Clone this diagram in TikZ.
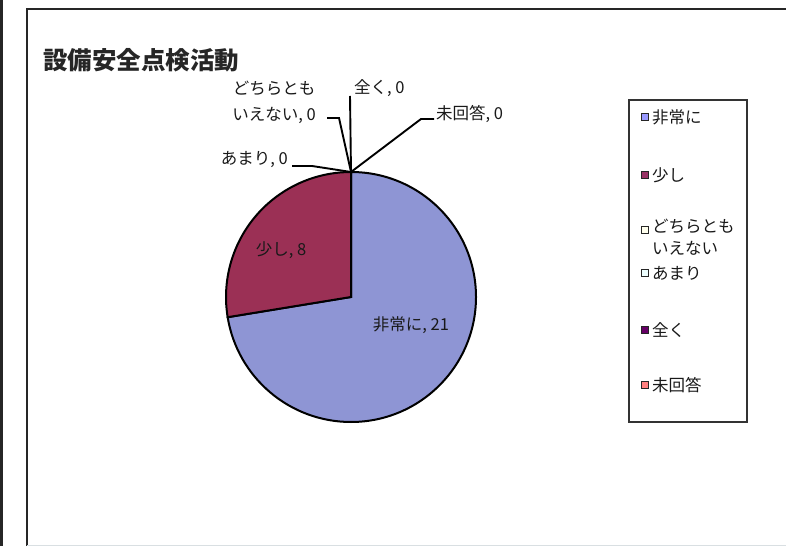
\documentclass[tikz,border=0pt]{standalone}
\usepackage{fontspec}
\setmainfont{Noto Sans CJK JP}
\definecolor{sBlue}{HTML}{8E95D4}
\definecolor{sRed}{HTML}{9B3055}
\definecolor{mBlue}{HTML}{9999FF}
\definecolor{mRed}{HTML}{993366}
\definecolor{mYel}{HTML}{FFFFEE}
\definecolor{mCyan}{HTML}{EEFFFF}
\definecolor{mPur}{HTML}{660066}
\definecolor{mPink}{HTML}{FF8080}
\tikzset{
  lbl/.style={inner sep=0pt, font=\fontsize{16.5}{26}\selectfont, text=black!90},
  leader/.style={draw=black, line width=1.9pt},
  frameline/.style={draw=black!85, line width=2.6pt},
  legtext/.style={inner sep=0pt, anchor=west, align=left, font=\fontsize{16.5}{22}\selectfont, text=black!90},
  legmark/.style={draw=black!85, line width=1.4pt, minimum size=7.5pt, inner sep=0pt},
  slice/.style={draw=black, line width=2pt},
}
\begin{document}
\begin{tikzpicture}[x=1pt,y=1pt]
\useasboundingbox (0,0) rectangle (786,546);
\fill[white] (0,0) rectangle (786,546);
% frame
\draw[frameline] (1.5,0) -- (1.5,546);
\draw[frameline] (27,0) -- (27,537) -- (786,537);
\draw[draw=cyan!15!gray!30, line width=1pt] (27,0.5) -- (786,0.5);
% title
\node[anchor=west, inner sep=0pt, font=\fontsize{24.5}{28}\selectfont\bfseries, text=black!85] (title) at (43,486) {設備安全点検活動};
% pie
\coordinate (C) at (351,249);
\coordinate (top) at (351,374);
\filldraw[slice, fill=sBlue] (C) -- (top) arc[start angle=90, end angle=-170.69, radius=125] -- cycle;
\filldraw[slice, fill=sRed] (C) -- ++(189.31:125) arc[start angle=189.31, end angle=90, radius=125] -- cycle;
% inner labels
\node[lbl] (lsukoshi) at (281,296) {少し, 8};
\node[lbl] (lhijou) at (411,221) {非常に, 21};
% outer labels
\node[lbl, align=center] (ldochira) at (274,444) {どちらとも\\いえない, 0};
\node[lbl, anchor=west] (lmattaku) at (354,458) {全く, 0};
\node[lbl, anchor=west] (lmikaitou) at (436,432) {未回答, 0};
\node[lbl, anchor=east] (lamari) at (288,386) {あまり, 0};
% leaders
\coordinate (d1) at (327,428); \coordinate (d2) at (339,428);
\draw[leader] (d1) -- (d2) -- (top);
\coordinate (z1) at (350,450);
\draw[leader] (z1) -- (top);
\coordinate (m1) at (434,427); \coordinate (m2) at (421,427);
\draw[leader] (m1) -- (m2) -- (top);
\coordinate (a1) at (292,380); \coordinate (a2) at (312,380);
\draw[leader] (a1) -- (a2) -- (top);
% legend
\draw[draw=black!80, line width=1.2pt] (629,446) rectangle (747,124);
\node[legmark, fill=mBlue] (k1) at (645,429) {};
\node[legtext] (t1) at (652,429) {非常に};
\node[legmark, fill=mRed] (k2) at (645,371) {};
\node[legtext] (t2) at (652,371) {少し};
\node[legmark, fill=mYel] (k3) at (645,316) {};
\node[legtext, anchor=north west] (t3) at (652,327) {どちらとも\\いえない};
\node[legmark, fill=mCyan] (k4) at (645,273) {};
\node[legtext] (t4) at (652,273) {あまり};
\node[legmark, fill=mPur] (k5) at (645,216) {};
\node[legtext] (t5) at (652,216) {全く};
\node[legmark, fill=mPink] (k6) at (645,161) {};
\node[legtext] (t6) at (652,161) {未回答};
\end{tikzpicture}
\end{document}
